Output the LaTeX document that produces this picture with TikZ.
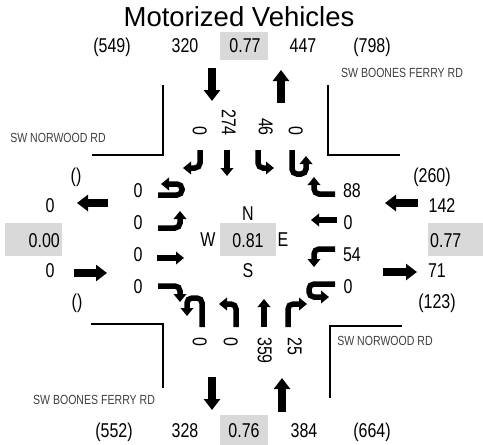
\documentclass[tikz,border=0pt]{standalone}
\usepackage{fontspec}
\setmainfont{Liberation Sans}
\newfontfamily\narrowfont[FakeStretch=0.8]{Liberation Sans}
\usetikzlibrary{arrows.meta}
\definecolor{boxgray}{HTML}{D9D9D9}
\definecolor{streetgray}{HTML}{404040}
\begin{document}
\begin{tikzpicture}[x=1pt,y=-1pt,
  num/.style={font=\narrowfont\fontsize{20}{20}\selectfont, inner sep=0pt, text height=14.3pt, text depth=0pt},
  street/.style={font=\narrowfont\fontsize{13.2}{13.5}\selectfont, text=streetgray, inner sep=0pt, text height=9.5pt, text depth=0pt},
  titlestyle/.style={font=\fontsize{27.5}{28}\selectfont, inner sep=0pt, text height=19.7pt, text depth=0pt},
  gbox/.style={fill=boxgray, draw=none},
  bigarrow/.style={line width=8pt, -{Triangle[width=16pt,length=11pt]}},
  mv/.style={line width=5.5pt, rounded corners=5pt, -{Triangle[width=12.5pt,length=8pt]}},
  road/.style={line width=1.8pt}]
\useasboundingbox (0,0) rectangle (483,445);

% title
\node[titlestyle] (title) at (239,17) {Motorized Vehicles};

% grey boxes
\fill[boxgray] (220,32) rectangle (268,60);
\fill[boxgray] (220,415) rectangle (268,445);
\fill[boxgray] (5,223) rectangle (62,256);
\fill[boxgray] (428,223) rectangle (483,256);
\fill[boxgray] (220,223) rectangle (276,256);

% top row
\node[num] (n549) at (112,45) {(549)};
\node[num] (n320) at (185,45) {320};
\node[num] (phfn) at (245,45) {0.77};
\node[num] (n447) at (303,45) {447};
\node[num] (n798) at (372,45) {(798)};

% bottom row
\node[num] (n552) at (114,430) {(552)};
\node[num] (n328) at (185,430) {328};
\node[num] (phfs) at (244,430) {0.76};
\node[num] (n384) at (304,430) {384};
\node[num] (n664) at (372,430) {(664)};

% west side
\node[num] (wpar1) at (76,175) {()};
\node[num] (wout) at (50,205) {0};
\node[num, anchor=east] (phfw) at (60,240) {0.00};
\node[num] (win) at (50,270) {0};
\node[num] (wpar2) at (77,301) {()};

% east side
\node[num] (epar1) at (432,175) {(260)};
\node[num] (ein) at (442,205) {142};
\node[num, anchor=west] (phfe) at (430,240) {0.77};
\node[num] (eout) at (437,270) {71};
\node[num] (epar2) at (437,301) {(123)};

% center
\node[num] (N) at (248,213) {N};
\node[num] (W) at (208,239) {W};
\node[num] (phfc) at (248,240) {0.81};
\node[num] (E) at (283,239) {E};
\node[num] (S) at (248,270) {S};

% EB labels
\node[num] (eb1) at (138,190) {0};
\node[num] (eb2) at (138,222) {0};
\node[num] (eb3) at (138,254) {0};
\node[num] (eb4) at (138,286) {0};
% WB labels
\node[num] (wb1) at (352,190) {88};
\node[num] (wb2) at (348,222) {0};
\node[num] (wb3) at (352,254) {54};
\node[num] (wb4) at (348,286) {0};

% SB labels (rotated)
\node[num, rotate=-90, anchor=east] (sb1) at (200,136) {0};
\node[num, rotate=-90, anchor=east] (sb2) at (229,136) {274};
\node[num, rotate=-90, anchor=east] (sb3) at (266,136) {46};
\node[num, rotate=-90, anchor=east] (sb4) at (296,136) {0};
% NB labels (rotated)
\node[num, rotate=-90, anchor=west] (nb1) at (200,337) {0};
\node[num, rotate=-90, anchor=west] (nb2) at (231,337) {0};
\node[num, rotate=-90, anchor=west] (nb3) at (265,337) {359};
\node[num, rotate=-90, anchor=west] (nb4) at (295,337) {25};

% street names
\node[street] (st1) at (402,73) {SW BOONES FERRY RD};
\node[street] (st2) at (58,138) {SW NORWOOD RD};
\node[street] (st3) at (385,341) {SW NORWOOD RD};
\node[street] (st4) at (94,400) {SW BOONES FERRY RD};

% road edges
\draw[road] (92,155) -- (163,155) -- (163,85);
\draw[road] (400,155) -- (328,155) -- (328,85);
\draw[road] (91,324) -- (163,324) -- (163,388);
\draw[road] (402,326) -- (330,326) -- (330,398);

% approach arrows
\draw[bigarrow] (212,68) -- (212,101);
\draw[bigarrow] (281,103) -- (281,70);
\draw[bigarrow] (212,377) -- (212,410);
\draw[bigarrow] (282,412) -- (282,378);
\draw[bigarrow] (108,203) -- (77,203);
\draw[bigarrow] (74,273) -- (107,273);
\draw[bigarrow] (418,203) -- (385,203);
\draw[bigarrow] (383,272) -- (417,272);

% SB movements
\draw[mv] (200,150) -- (200,168) -- (183,168);
\draw[mv] (227,150) -- (227,176);
\draw[mv] (258,150) -- (258,168) -- (274,168);
\draw[mv] (292,150) -- (292,174) -- (306,174) -- (306,156);

% EB movements
\draw[mv] (158,195) -- (182,195) -- (182,184) -- (161,184);
\draw[mv] (158,228) -- (180,228) -- (180,211);
\draw[mv] (157,258) -- (184,258);
\draw[mv] (158,286) -- (180,286) -- (180,302);

% WB movements
\draw[mv] (335,194) -- (314,194) -- (314,177);
\draw[mv] (337,220) -- (311,220);
\draw[mv] (335,249) -- (314,249) -- (314,267);
\draw[mv] (335,284) -- (309,284) -- (309,297) -- (329,297);

% NB movements
\draw[mv] (202,327) -- (202,298) -- (187,298) -- (187,316);
\draw[mv] (236,327) -- (236,304) -- (219,304);
\draw[mv] (264,327) -- (264,299);
\draw[mv] (288,327) -- (288,304) -- (307,304);
\end{tikzpicture}
\end{document}
